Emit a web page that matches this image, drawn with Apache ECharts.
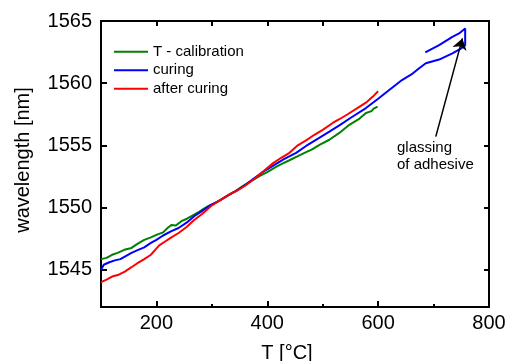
<!DOCTYPE html>
<html>
<head>
<meta charset="utf-8">
<script src="https://cdn.jsdelivr.net/npm/echarts@6/dist/echarts.min.js"></script>
<style>
  html, body { margin: 0; padding: 0; background: #fff; }
  #chart { width: 505px; height: 361px; }
</style>
</head>
<body>
<div id="chart"></div>
<script>
// T - calibration
const calibT = [100, 110, 120, 130, 142, 155, 165, 178, 190, 200, 212, 220, 227, 235, 245, 255, 265, 275, 285, 295,
  310, 325, 340, 355, 370, 385, 400, 415, 428, 440, 457, 470, 480, 495, 512, 530, 548, 565, 578, 588, 592, 599];
const calibW = [1545.85, 1545.95, 1546.2, 1546.35, 1546.6, 1546.75, 1547.05, 1547.4, 1547.6, 1547.8, 1548.0, 1548.35,
  1548.6, 1548.55, 1548.9, 1549.1, 1549.35, 1549.6, 1549.9, 1550.15, 1550.45, 1550.85, 1551.25, 1551.7, 1552.1,
  1552.5, 1552.85, 1553.25, 1553.55, 1553.8, 1554.17, 1554.45, 1554.65, 1555.05, 1555.45, 1556.0, 1556.65,
  1557.1, 1557.6, 1557.75, 1557.95, 1558.12];

// curing (goes up to ~757 °C and comes back)
const curingT = [100, 105, 115, 125, 135, 143, 155, 165, 178, 190, 200, 212, 227, 240, 255, 268, 280, 298, 315, 332,
  345, 360, 375, 390, 410, 430, 452, 470, 490, 512, 530, 550, 578, 600, 620, 643, 660, 674, 686, 710, 734, 750, 757,
  757, 746, 734, 710, 685];
const curingW = [1545.0, 1545.4, 1545.6, 1545.75, 1545.85, 1546.05, 1546.35, 1546.55, 1546.8, 1547.15, 1547.4,
  1547.75, 1548.1, 1548.35, 1548.8, 1549.3, 1549.65, 1550.2, 1550.6, 1551.05, 1551.35, 1551.8, 1552.3, 1552.8,
  1553.35, 1553.9, 1554.4, 1554.95, 1555.5, 1556.1, 1556.6, 1557.2, 1558.0, 1558.75, 1559.45, 1560.25, 1560.7,
  1561.2, 1561.6, 1561.9, 1562.4, 1562.8, 1563.06, 1564.4, 1564.0, 1563.73, 1563.06, 1562.48];

// after curing
const afterT = [100, 110, 120, 132, 143, 155, 165, 178, 190, 197, 205, 215, 227, 240, 255, 268, 283, 298, 315, 332,
  345, 360, 375, 390, 410, 425, 440, 455, 470, 485, 500, 518, 530, 545, 566, 580, 590, 600];
const afterW = [1544.0, 1544.2, 1544.45, 1544.6, 1544.85, 1545.2, 1545.5, 1545.85, 1546.2, 1546.55, 1546.95, 1547.25,
  1547.6, 1547.95, 1548.45, 1549.0, 1549.5, 1550.1, 1550.6, 1551.05, 1551.35, 1551.75, 1552.25, 1552.8, 1553.55,
  1554.0, 1554.4, 1555.0, 1555.4, 1555.85, 1556.25, 1556.8, 1557.1, 1557.5, 1558.1, 1558.5, 1558.9, 1559.35];

const xMajorTicks = [200, 400, 600];
const xMinorTicks = [300, 500, 700];
const xTickLabels = [200, 400, 600, 800];
const yTickLabels = [1545, 1550, 1555, 1560, 1565];
const yRightTicks = [1545, 1550, 1555, 1560];

// annotation arrow (data coords)
const arrowFrom = [704, 1555.7];
const arrowTo = [752, 1563.6];

const zip = (xs, ys) => xs.map((x, i) => [x, ys[i]]);
const FONT = 'Liberation Sans, Arial, sans-serif';

const chart = echarts.init(document.getElementById('chart'), null, { renderer: 'canvas' });
chart.setOption({
  animation: false,
  backgroundColor: '#fff',
  grid: { left: 101, right: 16, top: 21, bottom: 54, outerBoundsMode: 'none' },
  legend: {
    orient: 'vertical',
    left: 114,
    top: 42.5,
    padding: 0,
    icon: 'rect',
    itemWidth: 34,
    itemHeight: 2,
    itemGap: 0,
    textStyle: { fontSize: 15, lineHeight: 18.5, color: '#000', fontFamily: FONT },
    data: ['T - calibration', 'curing', 'after curing'],
  },
  xAxis: [
    {
      type: 'value',
      position: 'bottom',
      min: 100,
      max: 800,
      interval: 100,
      name: 'T [°C]',
      nameLocation: 'middle',
      nameGap: 36,
      nameTextStyle: { fontSize: 20, color: '#000', fontFamily: FONT, padding: [0, 16, 0, 0] },
      axisLine: { show: true, lineStyle: { color: '#000', width: 2 } },
      axisTick: { show: true, inside: true, length: 6, lineStyle: { color: '#000', width: 2 }, customValues: xMajorTicks },
      axisLabel: { fontSize: 20, color: '#000', fontFamily: FONT, margin: 6, customValues: xTickLabels },
      splitLine: { show: false },
    },
    {
      type: 'value',
      position: 'bottom',
      min: 100,
      max: 800,
      interval: 100,
      axisLine: { show: false },
      axisTick: { show: true, inside: true, length: 3, lineStyle: { color: '#000', width: 2 }, customValues: xMinorTicks },
      axisLabel: { show: false },
      splitLine: { show: false },
    },
    {
      type: 'value',
      position: 'top',
      min: 100,
      max: 800,
      interval: 100,
      axisLine: { show: true, lineStyle: { color: '#000', width: 2 } },
      axisTick: { show: true, inside: true, length: 5, lineStyle: { color: '#000', width: 2 } },
      axisLabel: { show: false },
      splitLine: { show: false },
    },
  ],
  yAxis: [
    {
      type: 'value',
      position: 'left',
      min: 1542,
      max: 1565,
      name: 'wavelength [nm]',
      nameLocation: 'middle',
      nameGap: 68,
      nameTextStyle: { fontSize: 20, color: '#000', fontFamily: FONT, padding: [0, 0, 0, 8] },
      axisLine: { show: true, lineStyle: { color: '#000', width: 2 } },
      axisTick: { show: true, inside: true, length: 6, lineStyle: { color: '#000', width: 2 }, customValues: yTickLabels },
      axisLabel: {
        fontSize: 20, color: '#000', fontFamily: FONT, margin: 9, customValues: yTickLabels,
        formatter: (v) => String(v),
      },
      splitLine: { show: false },
    },
    {
      type: 'value',
      position: 'right',
      min: 1542,
      max: 1565,
      axisLine: { show: true, lineStyle: { color: '#000', width: 2 } },
      axisTick: { show: true, inside: true, length: 5, lineStyle: { color: '#000', width: 2 }, customValues: yRightTicks },
      axisLabel: { show: false },
      splitLine: { show: false },
    },
  ],
  series: [
    {
      name: 'T - calibration',
      type: 'line',
      symbol: 'none',
      color: '#008000',
      lineStyle: { width: 2, color: '#008000' },
      data: zip(calibT, calibW),
    },
    {
      name: 'curing',
      type: 'line',
      symbol: 'none',
      color: '#0000ff',
      lineStyle: { width: 2, color: '#0000ff' },
      data: zip(curingT, curingW),
      markLine: {
        silent: true,
        symbol: ['none', 'arrow'],
        symbolSize: 11,
        label: { show: false },
        lineStyle: { color: '#000', width: 1.5, type: 'solid' },
        data: [[{ coord: arrowFrom }, { coord: arrowTo }]],
      },
    },
    {
      name: 'after curing',
      type: 'line',
      symbol: 'none',
      color: '#ff0000',
      lineStyle: { width: 2, color: '#ff0000' },
      data: zip(afterT, afterW),
    },
  ],
  graphic: [
    {
      type: 'text',
      left: 397,
      top: 139,
      style: {
        text: 'glassing\nof adhesive',
        font: '15px ' + FONT,
        fill: '#000',
        lineHeight: 17,
      },
    },
  ],
});
window.addEventListener('resize', chart.resize);
</script>
</body>
</html>
